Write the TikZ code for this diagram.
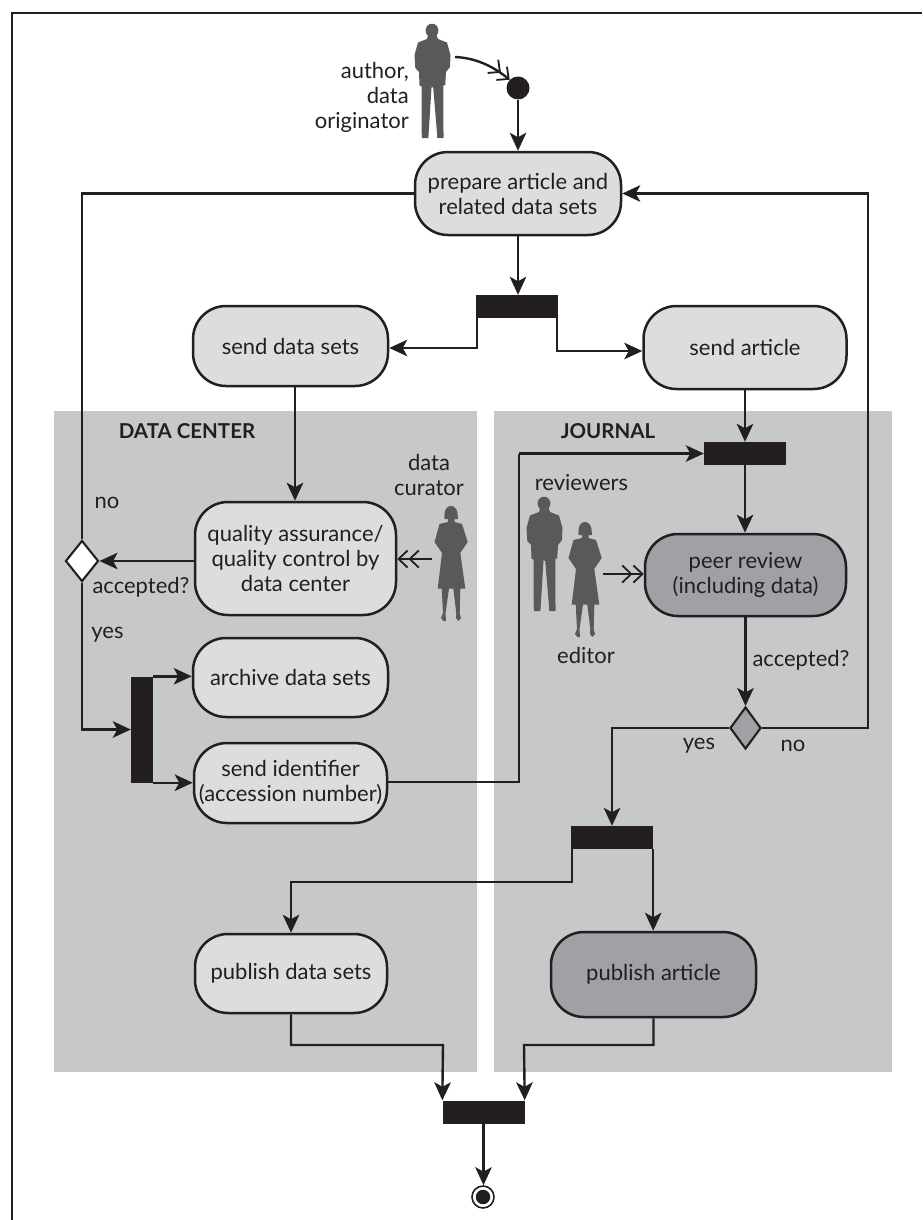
\documentclass[tikz,border=0pt]{standalone}
\usepackage{fontspec}
\setmainfont{Lato}
\usetikzlibrary{arrows.meta,shapes.geometric}
\definecolor{ink}{HTML}{231F20}
\definecolor{panel}{HTML}{C7C8CA}
\definecolor{lightbox}{HTML}{DCDDDE}
\definecolor{darkbox}{HTML}{A0A1A4}
\definecolor{figure}{HTML}{58595B}
\newcommand{\mansil}[2]{%
\begin{scope}[shift={(#1,#2)}]
\fill[figure] (0,6.5) ellipse (6.4 and 6.8);
\fill[figure] (-4,11) -- (-5,15) -- (-14,18.5) -- (-17.5,31) -- (-16.7,44) -- (-13,48) -- (-12.5,61.5) -- (-10.5,62.5) -- (-10.3,109) -- (-10,114) -- (-3.7,114) -- (-3.3,109) -- (-0.5,63.5) -- (1.2,63.5) -- (5,109) -- (5.3,114) -- (11.5,114) -- (11.5,109) -- (11.3,61.5) -- (13.2,61.5) -- (14,48) -- (18,43) -- (18.5,31) -- (15,18.5) -- (6,15) -- (4.5,11) -- cycle;
\end{scope}}
\newcommand{\womansil}[2]{%
\begin{scope}[shift={(#1,#2)}]
\fill[figure] (-6.5,13) .. controls (-7,3) and (-4,0) .. (0,0) .. controls (4,0) and (7,3) .. (6.8,13) -- cycle;
\fill[figure] (-3,12) -- (-3,16) -- (-11.5,18) -- (-16.5,36) -- (-9,47) -- (-13.3,82.5) -- (-9.3,82.5) -- (-8,107) -- (-10,112) -- (-7.5,115) -- (-5,115) -- (-5.5,107) -- (-2,82.5) -- (2.3,82.5) -- (5.3,107) -- (5,112) -- (7.3,115) -- (10,112) -- (8.7,107) -- (9.3,82.5) -- (14.3,82.5) -- (9.3,47) -- (16.7,36) -- (11,18) -- (3.5,16) -- (3.5,12) -- cycle;
\end{scope}}
\tikzset{
  conn/.style={draw=ink,line width=2.4pt},
  arr/.style={conn,-{Stealth[length=18pt,width=16.5pt,inset=4.5pt]}},
  dbl/.style={conn,-{Straight Barb[length=9pt,width=17pt,line width=1.8pt]Straight Barb[length=9pt,width=17pt,line width=1.8pt]}},
  activity/.style={rectangle,rounded corners=33pt,draw=ink,line width=2.5pt,inner sep=0pt,align=center,text=ink,font=\fontsize{22}{25}\selectfont},
  light/.style={activity,fill=lightbox},
  dark/.style={activity,fill=darkbox},
  syncbar/.style={rectangle,fill=ink,inner sep=0pt,minimum width=82pt,minimum height=23pt},
  label/.style={text=ink,inner sep=0pt,align=center,font=\fontsize{22}{25}\selectfont},
  heading/.style={text=ink,inner sep=0pt,font=\fontsize{20.5}{25}\selectfont\bfseries},
  choice/.style={diamond,aspect=0.8,draw=ink,line width=2.1pt,inner sep=0pt},
}
\begin{document}
\begin{tikzpicture}[x=1pt,y=-1pt]
\useasboundingbox (0,0) rectangle (922,1220);
\draw[ink,line width=2.4pt] (12,1220) -- (12,13) -- (922,13);
\fill[panel] (54,411) rectangle (477,1072);
\fill[panel] (494,411) rectangle (892,1072);

\node[label,anchor=east,align=right] (authorlbl) at (409,97) {author,\\data\\originator};
\node[label] (curatorlbl) at (429,475) {data\\curator};
\node[label] (reviewerslbl) at (581.5,483) {reviewers};
\node[label] (editorlbl) at (586,655) {editor};
\node[heading] (dc) at (187,431) {DATA CENTER};
\node[heading] (jr) at (608,431) {JOURNAL};
\node[label] (nol) at (107,503) {no};
\node[label] (accl) at (141,587) {accepted?};
\node[label] (yesl) at (107.5,635) {yes};
\node[label] (accr) at (801,660) {accepted?};
\node[label] (yesr) at (699,746) {yes};
\node[label] (nor) at (793,746) {no};

\mansil{432}{24}
\mansil{544}{497}
\womansil{451}{506}
\womansil{585}{522}
\coordinate (authorhand) at (455,57);
\coordinate (curatorhand) at (432,559);
\coordinate (editorhand) at (603,574);

\node[circle,fill=ink,minimum size=23pt,inner sep=0pt] (start) at (518,88) {};
\node[light,minimum width=206pt,minimum height=83pt] (prepare) at (518,193.5) {prepare article and\\related data sets};
\node[syncbar] (bar1) at (517,306.5) {};
\node[light,minimum width=195pt,minimum height=80pt] (senddata) at (290.5,346) {send data sets};
\node[light,minimum width=203pt,minimum height=83pt] (sendart) at (745,347.5) {send article};
\node[light,minimum width=201pt,minimum height=113pt] (qa) at (295.5,558.5) {quality assurance/\\quality control by\\data center};
\node[light,minimum width=195pt,minimum height=79pt] (archive) at (290.5,677.5) {archive data sets};
\node[light,minimum width=193pt,minimum height=80pt] (ident) at (290.5,783) {send identifier\\(accession number)};
\node[rectangle,fill=ink,inner sep=0pt,minimum width=22pt,minimum height=106pt] (vbar) at (142,729.5) {};
\node[choice,fill=white,minimum width=33pt,minimum height=41pt] (dleft) at (82,561) {};
\node[syncbar] (bar2) at (745,453.5) {};
\node[dark,minimum width=201pt,minimum height=82pt] (peer) at (745.5,575) {peer review\\(including data)};
\node[choice,fill=darkbox,minimum width=31pt,minimum height=42pt] (dright) at (745.5,728) {};
\node[syncbar] (bar3) at (612,837.5) {};
\node[light,minimum width=192pt,minimum height=79pt] (pubdata) at (291,973.5) {publish data sets};
\node[dark,minimum width=205pt,minimum height=85pt] (pubart) at (653.5,974.5) {publish article};
\node[syncbar] (bar4) at (483.5,1112) {};
\node[circle,draw=ink,line width=1.6pt,fill=white,minimum size=22pt,inner sep=0pt] (finish) at (483,1197) {};
\node[circle,fill=ink,minimum size=14.5pt,inner sep=0pt] (finishdot) at (483,1197) {};

\draw[dbl] (authorhand) .. controls (478,58) and (495,68) .. (start.north west);
\draw[arr] (start.south) -- (prepare.north -| start);
\draw[arr] (prepare.south) -- (bar1.north -| prepare);
\draw[arr] (bar1.south west) ++(1,0) |- (senddata.east |- 0,348);
\draw[arr] (bar1.south east) ++(-1,0) |- (sendart.west |- 0,351);
\draw[arr] (senddata.south -| 295,0) -- (qa.north -| 295,0);
\draw[arr] (sendart.south -| bar2) -- (bar2.north);
\draw[arr] (bar2.south) -- (peer.north -| bar2);
\draw[arr] (qa.west |- dleft) -- (dleft.east);
\draw[conn] (dleft.north) |- (prepare.west);
\draw[arr] (dleft.south) |- (vbar.west);
\draw[arr] (vbar.north east) -- (archive.west |- vbar.north);
\draw[arr] (vbar.south east) -- (ident.west |- vbar.south);
\draw[dbl] (curatorhand) -- (qa.east |- curatorhand);
\draw[dbl] (editorhand) -- (peer.west |- editorhand);
\draw[conn] (ident.east |- 0,782) -- (519,782) -- (519,453.5);
\draw[arr] (519,453.5) -- (bar2.west);
\draw[arr] (peer.south -| dright) -- (dright.north);
\draw[arr] (dright.east) -- (868,728) |- (prepare.east);
\draw[arr] (dright.west) -| (bar3.north);
\draw[arr] (bar3.south west) ++(1,0) |- (291,882) -- (pubdata.north -| 291,0);
\draw[arr] (bar3.south east) -- (pubart.north -| bar3.south east);
\draw[arr] (pubdata.south -| 291,0) |- (443,1045) -- (bar4.north west);
\draw[arr] (pubart.south) |- (524,1045) -- (bar4.north east);
\draw[arr] (bar4.south) -- (finish.north -| bar4);
\end{tikzpicture}
\end{document}
